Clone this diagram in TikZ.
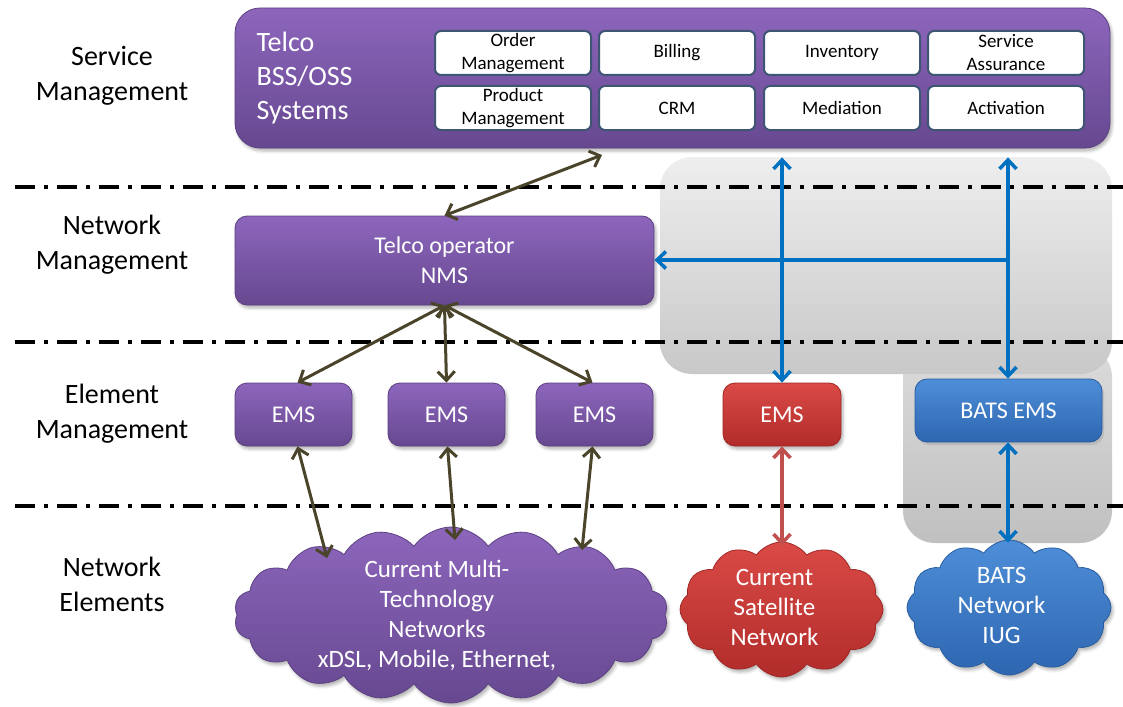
\documentclass[tikz,border=0pt]{standalone}
\usepackage{fontspec}
\setmainfont{Carlito}
\usetikzlibrary{arrows.meta,shapes.symbols,shadows,shadows.blur,calc}

\definecolor{purpTop}{RGB}{141,102,188}
\definecolor{purpBot}{RGB}{102,72,144}
\definecolor{purpEdge}{RGB}{92,64,130}
\definecolor{redTop}{RGB}{218,74,70}
\definecolor{redBot}{RGB}{176,44,42}
\definecolor{redEdge}{RGB}{160,40,38}
\definecolor{bluTop}{RGB}{78,142,216}
\definecolor{bluBot}{RGB}{46,102,176}
\definecolor{bluEdge}{RGB}{40,92,160}
\definecolor{greyTop}{RGB}{238,238,238}
\definecolor{greyBot}{RGB}{200,200,200}
\definecolor{cellEdge}{RGB}{62,86,116}
\definecolor{oliveLine}{RGB}{74,69,42}
\definecolor{blueLine}{RGB}{0,112,192}
\definecolor{redLine}{RGB}{192,80,77}

\begin{document}
\begin{tikzpicture}[x=1pt,y=-1pt,
  softshadow/.style={blur shadow={shadow xshift=2pt,shadow yshift=-3pt,shadow blur radius=3pt,shadow opacity=30}},
  purplebox/.style={rounded corners=12pt,top color=purpTop,bottom color=purpBot,draw=purpEdge,line width=0.8pt,softshadow,
    text=white,font=\fontsize{24}{30}\selectfont,align=center,inner sep=0pt},
  redbox/.style={purplebox,top color=redTop,bottom color=redBot,draw=redEdge},
  bluebox/.style={rounded corners=12pt,top color=bluTop,bottom color=bluBot,draw=bluEdge,line width=0.8pt,
    drop shadow={opacity=0.25,shadow xshift=2pt,shadow yshift=-3pt},
    text=white,font=\fontsize{24}{30}\selectfont,align=center,inner sep=0pt},
  cell/.style={rounded corners=6pt,fill=white,draw=cellEdge,line width=2pt,minimum width=156pt,minimum height=44pt,
    inner sep=0pt,align=center,font=\fontsize{19}{23}\selectfont},
  layer/.style={align=center,font=\fontsize{28}{35}\selectfont},
  cloudbase/.style={cloud,cloud ignores aspect,inner sep=0pt,softshadow,line width=0.8pt},
  cloudtext/.style={text=white,align=center,font=\fontsize{25}{30}\selectfont},
  divider/.style={line width=4pt,dash pattern=on 20pt off 9pt on 4pt off 9pt},
  olivearr/.style={draw=oliveLine,line width=3pt,<->,>={Straight Barb[length=9pt,width=17pt]}},
  bluearr/.style={draw=blueLine,line width=3.5pt,>={Straight Barb[length=9pt,width=17pt]}},
  redarr/.style={draw=redLine,line width=3.5pt,<->,>={Straight Barb[length=9pt,width=17pt]}}
]
\useasboundingbox (0,0) rectangle (1123,706);

% shaded band for the satellite / BATS management path
\shade[top color=greyTop!92!black,bottom color=greyBot!96!black,rounded corners=32pt] (903,345) rectangle (1112,543);
\shade[top color=greyTop,bottom color=greyBot,rounded corners=32pt] (660,157) rectangle (1112,374);

% layer dividers
\draw[divider] (15,187) -- (1123,187);
\draw[divider] (15,342) -- (1123,342);
\draw[divider] (15,506) -- (1123,506);

% layer names
\node[layer] (lSM) at (112,76) {Service\\Management};
\node[layer] (lNM) at (112,245) {Network\\Management};
\node[layer] (lEM) at (112,414) {Element\\Management};
\node[layer] (lNE) at (112,584) {Network\\Elements};

% BSS/OSS systems
\node[purplebox,rounded corners=25pt,minimum width=875pt,minimum height=140pt] (bss) at (672.5,78) {};
\node[anchor=west,align=left,text=white,font=\fontsize{28}{34}\selectfont] (bssT) at (253,78) {Telco\\BSS/OSS\\Systems};
\node[cell] (c1) at (513,53) {Order\\Management};
\node[cell] (c2) at (677,53) {Billing};
\node[cell] (c3) at (842,53) {Inventory};
\node[cell] (c4) at (1006,53) {Service\\Assurance};
\node[cell] (c5) at (513,108) {Product\\Management};
\node[cell] (c6) at (677,108) {CRM};
\node[cell] (c7) at (842,108) {Mediation};
\node[cell] (c8) at (1006,108) {Activation};

% network management
\node[purplebox,minimum width=419pt,minimum height=89pt] (nms) at (444.5,260.5) {Telco operator\\NMS};

% element managers
\node[purplebox,minimum width=117pt,minimum height=63pt] (ems1) at (293.5,414.5) {EMS};
\node[purplebox,minimum width=117pt,minimum height=63pt] (ems2) at (446.5,414.5) {EMS};
\node[purplebox,minimum width=117pt,minimum height=63pt] (ems3) at (594.5,414.5) {EMS};
\node[redbox,minimum width=118pt,minimum height=63pt] (emsR) at (782,414.5) {EMS};
\node[bluebox,minimum width=187pt,minimum height=63pt] (emsB) at (1008.5,410.5) {BATS EMS};

% networks
\node[cloudbase,cloud puffs=18,cloud puff arc=110,top color=purpTop,bottom color=purpBot,draw=purpEdge,minimum width=434pt,minimum height=176pt] (netP) at (451,615) {};
\node[cloudtext] (netPt) at (437,615) {Current Multi-\\Technology\\Networks\\xDSL, Mobile, Ethernet,};
\node[cloudbase,cloud puffs=12,cloud puff arc=110,top color=redTop,bottom color=redBot,draw=redEdge,minimum width=203pt,minimum height=135pt] (netR) at (781.5,609.5) {};
\node[cloudtext] (netRt) at (774.5,607) {Current\\Satellite\\Network};
\node[cloudbase,cloud puffs=12,cloud puff arc=110,top color=bluTop,bottom color=bluBot,draw=bluEdge,minimum width=204pt,minimum height=135pt] (netB) at (1009,607.5) {};
\node[cloudtext] (netBt) at (1001.5,605) {BATS\\Network\\IUG};

% connection points
\coordinate (bssPort) at (602,155);
\coordinate (pA) at (327,558);
\coordinate (pB) at (455,540);
\coordinate (pC) at (582,550);
\coordinate (join) at (1008,260);

% operator links
\draw[olivearr] (bssPort) -- (nms.north);
\draw[olivearr] (nms.south) -- ([xshift=4pt]ems1.north);
\draw[olivearr] (nms.south) -- (ems2.north);
\draw[olivearr] (nms.south) -- ([xshift=-2pt]ems3.north);
\draw[olivearr] ([xshift=4pt]ems1.south) -- (pA);
\draw[olivearr] ([xshift=1pt]ems2.south) -- (pB);
\draw[olivearr] ([xshift=-2pt]ems3.south) -- (pC);

% satellite and BATS links
\draw[bluearr,<->] ($(bss.south -| emsR.north)+(0,9)$) -- (emsR.north);
\draw[bluearr,<->] ($(bss.south -| join)+(0,9)$) -- (join |- emsB.north);
\draw[bluearr,->] (join) -- (nms.east |- join);
\draw[bluearr,<->] (join |- emsB.south) -- ($(join |- netB.north)+(0,3)$);
\draw[redarr] (emsR.south) -- ($(emsR.south |- netR.north)+(0,4)$);
\end{tikzpicture}
\end{document}
